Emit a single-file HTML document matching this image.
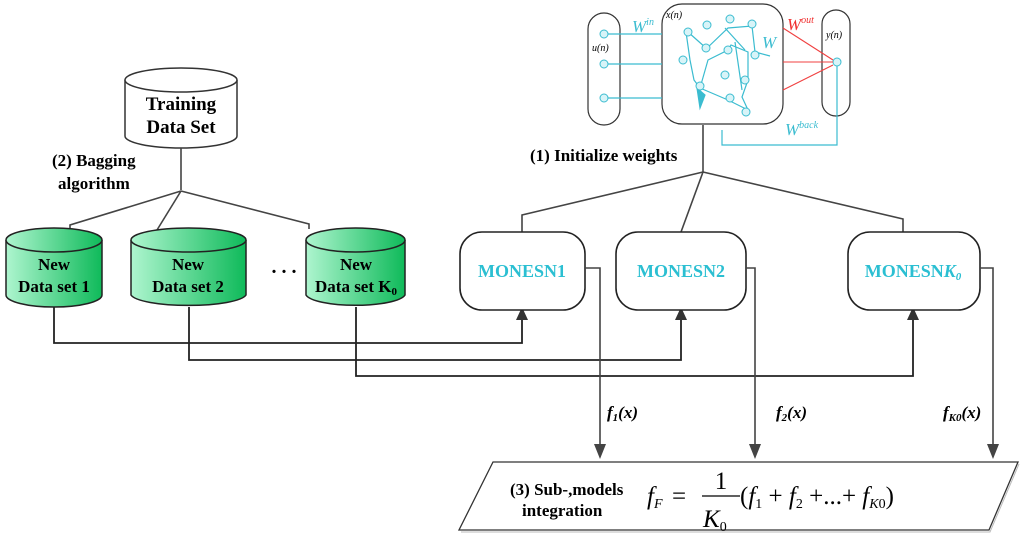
<!DOCTYPE html>
<html><head><meta charset="utf-8"><style>
html,body{margin:0;padding:0;background:#fff}
svg{display:block}
text{font-family:"Liberation Serif",serif}
</style></head><body>
<svg width="1024" height="539" viewBox="0 0 1024 539" xmlns="http://www.w3.org/2000/svg">
<defs>
<linearGradient id="g" x1="0" x2="1" y1="0" y2="0">
<stop offset="0" stop-color="#aef5cf"/><stop offset="1" stop-color="#0fba5a"/>
</linearGradient>
</defs>

<g stroke="#333" stroke-width="1.5" fill="#fff">
<path d="M125,80 L125,136 A56,12 0 0 0 237,136 L237,80"/>
<ellipse cx="181" cy="80" rx="56" ry="12"/>
</g>
<text x="181" y="110" font-size="19" font-weight="bold" text-anchor="middle">Training</text>
<text x="181" y="133" font-size="19" font-weight="bold" text-anchor="middle">Data Set</text>
<text x="52" y="166" font-size="17" font-weight="bold">(2) Bagging</text>
<text x="58" y="189" font-size="17" font-weight="bold">algorithm</text>

<g stroke="#444" stroke-width="1.6" fill="none">
<path d="M181,148 L181,190"/>
<path d="M181,191 L70,225 L70,230"/>
<path d="M181,191 L157,230"/>
<path d="M181,191 L309,224 L309,229"/>
</g>

<g stroke="#222" stroke-width="1.5" fill="url(#g)">
<path d="M6,240 L6,295 A48,12 0 0 0 102,295 L102,240"/>
<ellipse cx="54" cy="240" rx="48" ry="12"/>
<path d="M131,240 L131,295 A58,12 0 0 0 246,295 L246,240"/>
<ellipse cx="188.5" cy="240" rx="57.5" ry="12"/>
<path d="M306,240 L306,295 A50,12 0 0 0 405,295 L405,240"/>
<ellipse cx="355.5" cy="240" rx="49.5" ry="12"/>
</g>
<g font-size="17" font-weight="bold" text-anchor="middle">
<text x="54" y="270">New</text><text x="54" y="292">Data set 1</text>
<text x="188" y="270">New</text><text x="188" y="292">Data set 2</text>
<text x="356" y="270">New</text><text x="356" y="292">Data set K<tspan font-size="11" dy="3">0</tspan></text>
</g>
<text x="284" y="273" font-size="20" font-weight="bold" text-anchor="middle">. . .</text>

<g stroke="#222" stroke-width="1.8" fill="none">
<path d="M54,307 L54,343 L522,343 L522,318"/>
<path d="M189,307 L189,360 L681,360 L681,318"/>
<path d="M356,307 L356,376 L913,376 L913,318"/>
</g>
<g fill="#333">
<path d="M516,320 L528,320 L522,307 Z"/>
<path d="M675,320 L687,320 L681,307 Z"/>
<path d="M907,320 L919,320 L913,307 Z"/>
</g>

<g stroke="#444" stroke-width="1.6" fill="none">
<path d="M703,125 L703,172"/>
<path d="M703,172 L522,215 L522,232"/>
<path d="M703,172 L681,232"/>
<path d="M703,172 L903,219 L903,232"/>
</g>
<text x="530" y="161" font-size="17" font-weight="bold">(1) Initialize weights</text>

<g stroke="#222" stroke-width="1.6" fill="#fff">
<rect x="460" y="232" width="125" height="78" rx="22"/>
<rect x="616" y="232" width="130" height="78" rx="22"/>
<rect x="848" y="232" width="132" height="78" rx="22"/>
</g>
<g font-size="18" font-weight="bold" fill="#2bbfd2" text-anchor="middle">
<text x="522" y="277">MONESN1</text>
<text x="681" y="277">MONESN2</text>
<text x="913" y="277">MONESN<tspan font-style="italic">K<tspan font-size="11" dy="3">0</tspan></tspan></text>
</g>

<g stroke="#444" stroke-width="1.6" fill="none">
<path d="M585,268 L600,268 L600,446"/>
<path d="M746,268 L755,268 L755,446"/>
<path d="M980,268 L993,268 L993,446"/>
</g>
<g fill="#444">
<path d="M594,444 L606,444 L600,459 Z"/>
<path d="M749,444 L761,444 L755,459 Z"/>
<path d="M987,444 L999,444 L993,459 Z"/>
</g>
<g font-size="17" font-weight="bold" font-style="italic">
<text x="607" y="418">f<tspan font-size="11" dy="3">1</tspan><tspan dy="-3">(x)</tspan></text>
<text x="776" y="418">f<tspan font-size="11" dy="3">2</tspan><tspan dy="-3">(x)</tspan></text>
<text x="943" y="418">f<tspan font-size="11" dy="3">K0</tspan><tspan dy="-3">(x)</tspan></text>
</g>

<path d="M493,462 L1018,462 L989,530 L459,530 Z" fill="#fff" stroke="#333" stroke-width="1.3"/>
<path d="M461,532 L990,532 L1019,464" fill="none" stroke="#bbb" stroke-width="1"/>
<text x="510" y="495" font-size="17" font-weight="bold">(3) Sub-,models</text>
<text x="522" y="516" font-size="17" font-weight="bold">integration</text>
<g font-size="25" font-style="italic">
<text x="647" y="504">f<tspan font-size="14" dy="4">F</tspan></text>
<text x="672" y="504" font-style="normal">=</text>
<text x="721" y="489" font-style="normal" text-anchor="middle">1</text>
<line x1="702" y1="496" x2="740" y2="496" stroke="#000" stroke-width="1.3"/>
<text x="703" y="527">K<tspan font-size="14" font-style="normal" dy="4">0</tspan></text>
<text x="740" y="504"><tspan font-style="normal">(</tspan>f<tspan font-size="14" font-style="normal" dy="4">1</tspan><tspan dy="-4" font-style="normal"> + </tspan>f<tspan font-size="14" font-style="normal" dy="4">2</tspan><tspan dy="-4" font-style="normal"> +...+ </tspan>f<tspan font-size="14" dy="4">K</tspan><tspan font-size="14" font-style="normal">0</tspan><tspan dy="-4" font-style="normal">)</tspan></text>
</g>

<g fill="none" stroke="#333" stroke-width="1.2">
<rect x="588" y="13" width="32" height="112" rx="16"/>
<rect x="662" y="4" width="121" height="120" rx="20"/>
<rect x="822" y="10" width="28" height="106" rx="14"/>
</g>
<g stroke="#3bbcd0" stroke-width="1.2" fill="none">
<path d="M604,34 L662,34 M604,64 L662,64 M604,98 L662,98"/>
<path d="M837,64 L837,145 L722,145 L722,130"/>
<path d="M686,32 L690,60 L694,80 L700,88 L708,60 L728,50 L731,45 L748,52 L748,80 L742,97 L748,110 L728,100 L700,88 M705,50 L728,28 L752,26 L755,52 L770,56 M735,42 L742,90 M688,32 L706,48 M725,28 L745,50"/>
<path d="M697,88 L700,108 L705,95 Z" fill="#3bbcd0"/>
</g>
<g fill="#d8f4f8" stroke="#3bbcd0" stroke-width="1">
<circle cx="604" cy="34" r="4"/><circle cx="604" cy="64" r="4"/><circle cx="604" cy="98" r="4"/>
<circle cx="837" cy="62" r="4"/>
<circle cx="688" cy="32" r="4"/><circle cx="706" cy="48" r="4"/><circle cx="683" cy="60" r="4"/>
<circle cx="707" cy="25" r="4"/><circle cx="730" cy="19" r="4"/><circle cx="752" cy="24" r="4"/>
<circle cx="728" cy="50" r="4"/><circle cx="755" cy="55" r="4"/><circle cx="700" cy="86" r="4"/>
<circle cx="725" cy="75" r="4"/><circle cx="745" cy="80" r="4"/><circle cx="730" cy="98" r="4"/>
<circle cx="746" cy="112" r="4"/>
</g>
<g stroke="#f04040" stroke-width="1.1">
<path d="M783,28 L833,60 M783,62 L833,62 M783,90 L833,65"/>
</g>
<g font-style="italic">
<text x="632" y="32" font-size="17" fill="#3bbcd0">W<tspan font-size="10" dy="-7">in</tspan></text>
<text x="787" y="30" font-size="17" fill="#f03030">W<tspan font-size="10" dy="-7">out</tspan></text>
<text x="762" y="48" font-size="17" fill="#3bbcd0">W</text>
<text x="785" y="135" font-size="17" fill="#3bbcd0">W<tspan font-size="10" dy="-7">back</tspan></text>
<text x="666" y="18" font-size="10">x(n)</text>
<text x="592" y="51" font-size="10">u(n)</text>
<text x="826" y="38" font-size="10">y(n)</text>
</g>
</svg>
</body></html>
